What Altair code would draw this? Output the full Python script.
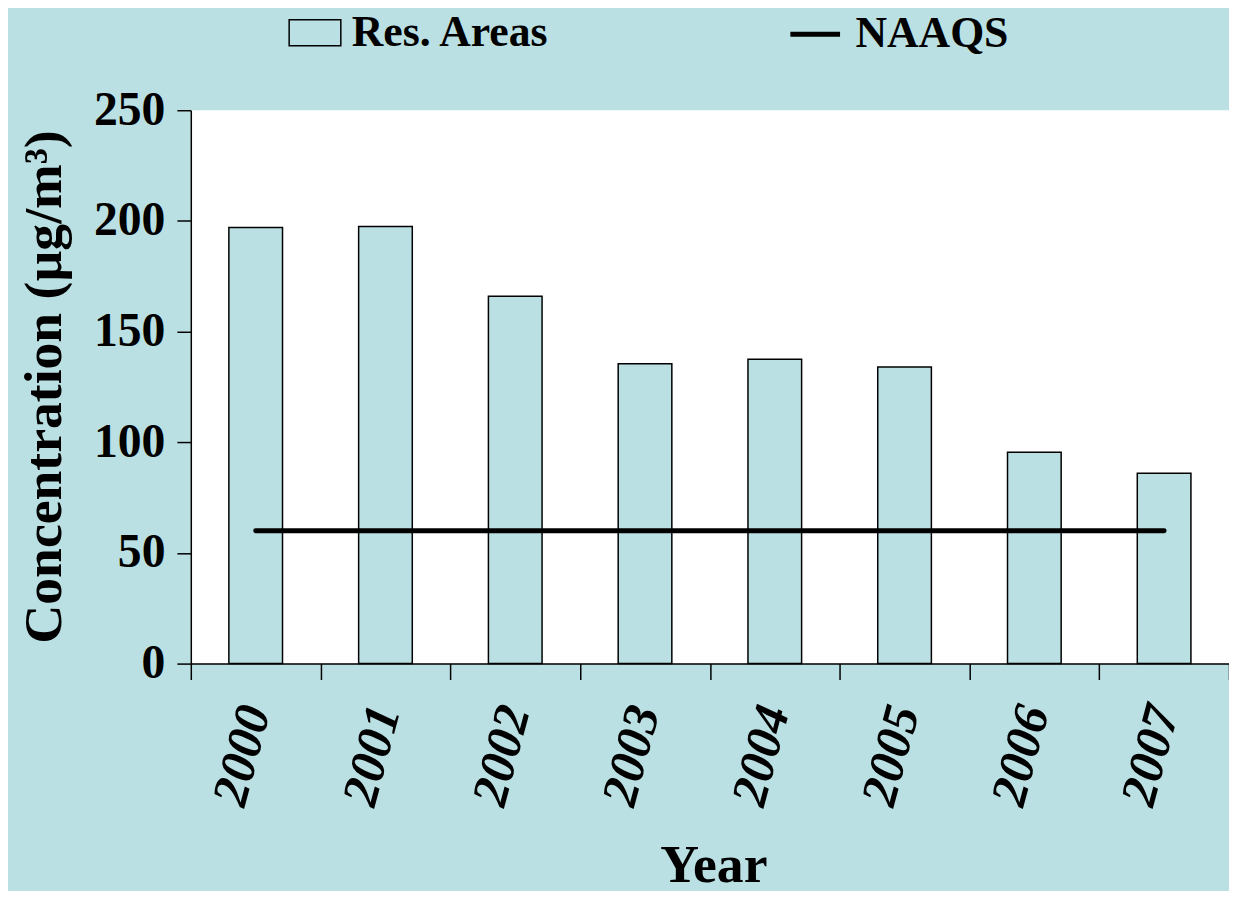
import altair as alt
import pandas as pd

years = ["2000", "2001", "2002", "2003", "2004", "2005", "2006", "2007"]
res_areas = [197, 197.5, 166, 135.5, 137.5, 134, 95.5, 86]
naaqs = [60, 60, 60, 60, 60, 60, 60, 60]

df = pd.DataFrame({
    "Year": years,
    "Res": res_areas,
    "NAAQS": naaqs,
    "s1": ["Res. Areas"] * len(years),
    "s2": ["NAAQS"] * len(years),
})

FONT = "Liberation Serif"
BG = "#BAE0E3"

x_enc = alt.X(
    "Year:N",
    scale=alt.Scale(paddingInner=0, paddingOuter=0),
    axis=alt.Axis(
        title="Year", titleFont=FONT, titleFontSize=54, titleFontWeight="bold",
        titleColor="black", titleX=526, titleY=176,
        labelAngle=285, labelFont=FONT, labelFontSize=51, labelFontStyle="italic",
        labelFontWeight="bold", labelColor="black", labelPadding=27,
        tickSize=16, tickBand="extent", tickColor="black", tickWidth=1.5,
        domainColor="black", domainWidth=1.5, grid=False,
    ),
)

y_axis = alt.Axis(
    title="Concentration (µg/m³)", titleFont=FONT, titleFontSize=54,
    titleFontWeight="bold", titleColor="black", titleX=-120, titleY=278,
    labelFont=FONT, labelFontSize=48, labelFontWeight="bold", labelColor="black",
    labelPadding=12, values=[0, 50, 100, 150, 200, 250],
    tickSize=14, tickColor="black", tickWidth=1.5,
    domainColor="black", domainWidth=1.5, grid=False,
)

y_scale = alt.Scale(domain=[0, 250], nice=False)

rect_path = "M-1,-0.5H1V0.5H-1Z"

bars = alt.Chart(df).mark_bar(size=54, stroke="black", strokeWidth=1.5).encode(
    x=x_enc,
    y=alt.Y("Res:Q", scale=y_scale, axis=y_axis),
    fill=alt.Fill(
        "s1:N", scale=alt.Scale(range=[BG]),
        legend=alt.Legend(
            orient="none", legendX=98, legendY=-105, title=None,
            symbolType=rect_path, symbolSize=2704, symbolStrokeColor="black",
            symbolStrokeWidth=1.5, symbolFillColor=BG,
            labelFont=FONT, labelFontSize=44, labelFontWeight="bold",
            labelColor="black", labelOffset=10, labelLimit=500, padding=0,
        ),
    ),
)

line = alt.Chart(df).mark_line(strokeWidth=5, strokeCap="round").encode(
    x=x_enc,
    y=alt.Y("NAAQS:Q", scale=y_scale, axis=y_axis),
    stroke=alt.Stroke(
        "s2:N", scale=alt.Scale(range=["black"]),
        legend=alt.Legend(
            orient="none", legendX=601, legendY=-104, title=None,
            symbolType="stroke", symbolSize=2500, symbolStrokeWidth=5,
            symbolStrokeColor="black",
            labelFont=FONT, labelFontSize=44, labelFontWeight="bold",
            labelColor="black", labelOffset=13, labelLimit=500, padding=0,
        ),
    ),
)

chart = alt.layer(bars, line).properties(
    width=1045, height=557,
    autosize=alt.AutoSizeParams(type="none"),
    padding={"left": 184, "top": 100, "right": 0, "bottom": 226},
    background=BG,
).configure_view(fill="white", strokeWidth=0)

chart.save("out.html", embed_options={"renderer": "svg", "actions": False})
